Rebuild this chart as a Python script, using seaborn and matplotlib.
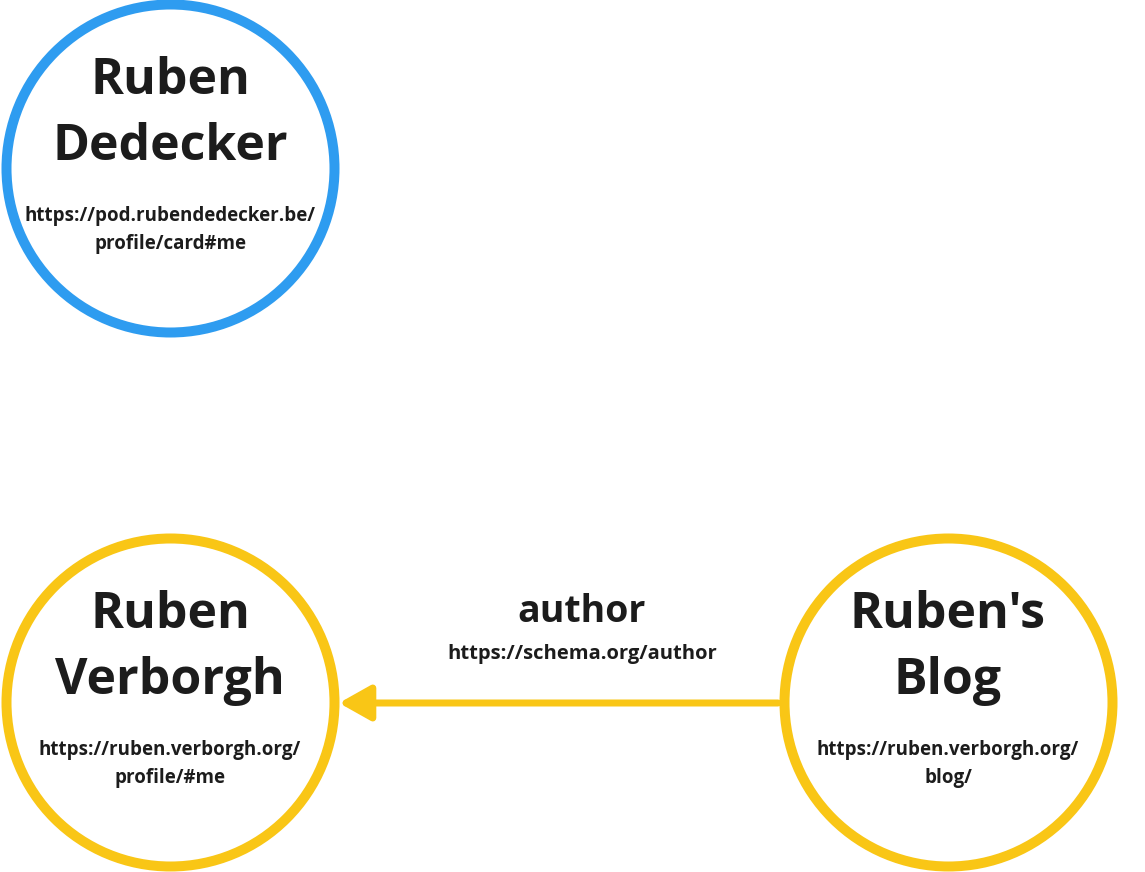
import matplotlib
matplotlib.use("Agg")
import matplotlib.pyplot as plt
import seaborn as sns
import pandas as pd

sns.set_theme(style="white")
plt.rcParams['font.family'] = ['Open Sans', 'DejaVu Sans']

node_names = ["Ruben\nDedecker", "Ruben\nVerborgh", "Ruben's\nBlog"]
node_urls = ["https://pod.rubendedecker.be/\nprofile/card#me",
             "https://ruben.verborgh.org/\nprofile/#me",
             "https://ruben.verborgh.org/\nblog/"]
node_x = [170, 170, 948]
node_y = [168, 702, 702]
node_colors = ["#2e9cf0", "#f9c616", "#f9c616"]
edge_label = "author"
edge_url = "https://schema.org/author"

W, H = 1145, 872
fig = plt.figure(figsize=(W/100, H/100), dpi=100)
ax = fig.add_axes([0, 0, 1, 1])
ax.set_xlim(0, W); ax.set_ylim(H, 0); ax.axis("off")

df = pd.DataFrame({"x": node_x, "y": node_y, "c": node_colors})
r_px = 164
d_pt = 2 * r_px * 72 / 100
for _, row in df.iterrows():
    sns.scatterplot(x=[row.x], y=[row.y], ax=ax, s=d_pt**2, facecolor="white",
                    edgecolor=row.c, linewidth=10*72/100, legend=False, zorder=2)

for name, url, x, y in zip(node_names, node_urls, node_x, node_y):
    ax.text(x, y - 54, name, ha="center", va="center", fontsize=36, fontweight="bold",
            color="#1c1c1c", linespacing=1.4, zorder=3)
    ax.text(x, y + 62, url, ha="center", va="center", fontsize=13.5, fontweight="bold",
            color="#1c1c1c", linespacing=1.55, zorder=3)

ax.annotate("", xy=(node_x[1] + r_px + 5, 703), xytext=(node_x[2] - r_px - 6, 703),
            arrowprops=dict(arrowstyle="-|>,head_length=1.6,head_width=0.9",
                        color=node_colors[1], lw=7*72/100, shrinkA=0, shrinkB=0), zorder=1)
ax.text(582, 612, edge_label, ha="center", va="center", fontsize=27, fontweight="bold", color="#1c1c1c")
ax.text(582, 654, edge_url, ha="center", va="center", fontsize=14.5, fontweight="bold", color="#1c1c1c")

fig.savefig("out.png", dpi=100, facecolor="white")
